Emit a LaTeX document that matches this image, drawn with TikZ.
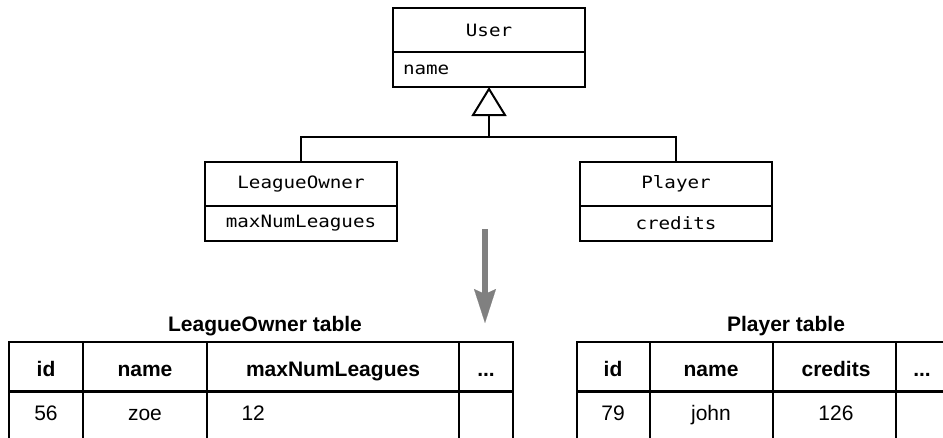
\documentclass[tikz,border=0pt]{standalone}
\usepackage{fontspec}
\setmainfont{Liberation Sans}
\newfontfamily\umlfont[FakeStretch=1.13]{DejaVu Sans Mono}
\usetikzlibrary{arrows.meta,positioning}

\begin{document}
\begin{tikzpicture}[
    x=1pt, y=-1pt,
    umlname/.style={draw, line width=2pt, minimum width=192pt, minimum height=44pt,
        inner sep=0pt, outer sep=0pt, font=\umlfont\fontsize{17}{20}\selectfont},
    umlattr/.style={umlname, minimum height=35pt},
    inherit/.style={-{Triangle[open, length=29pt, width=35pt, line width=2pt]}, line width=2pt},
    mapping/.style={-{Stealth[length=34pt, width=22pt, inset=5pt, line width=0.1pt]}, line width=6pt, draw=gray, fill=gray},
    grid/.style={line width=2pt, line cap=rect},
    sep/.style={line width=3pt},
    head/.style={anchor=base, font=\fontsize{21}{25}\selectfont\bfseries},
    cell/.style={anchor=base, font=\fontsize{21}{25}\selectfont}
]
    \useasboundingbox (0,0) rectangle (943,437);

    % Classes
    \node[umlname] (user) at (489,30) {User};
    \node[umlattr, below=0pt of user, text width=172pt, align=left] (username) {name};

    \node[umlname] (owner) at (301,184) {LeagueOwner};
    \node[umlattr, below=0pt of owner] (ownermax) {maxNumLeagues};

    \node[umlname] (player) at (676,184) {Player};
    \node[umlattr, below=0pt of player] (playercredits) {credits};

    % Inheritance
    \coordinate (join) at (489,137);
    \draw[line width=2pt] (owner.north) |- (join) -| (player.north);
    \draw[inherit] (join) -- (username.south);

    % Mapping arrow
    \coordinate (mapfrom) at (485,229);
    \coordinate (mapto) at (485,323);
    \draw[mapping] (mapfrom) -- (mapto);

    % LeagueOwner table
    \node[head] (lotitle) at (265,331) {LeagueOwner table};
    \draw[grid] (9,342) -- (513,342);
    \draw[grid] (9,342) -- (9,437);
    \draw[grid] (83,342) -- (83,437);
    \draw[grid] (207,342) -- (207,437);
    \draw[grid] (459,342) -- (459,437);
    \draw[grid] (513,342) -- (513,437);
    \draw[sep] (9,391) -- (513,391);
    \node[head] (loid) at (46,376) {id};
    \node[head] (loname) at (145,376) {name};
    \node[head] (lomax) at (333,376) {maxNumLeagues};
    \node[head] (lomore) at (486,376) {...};
    \node[cell] (loidval) at (46,420) {56};
    \node[cell] (lonameval) at (145,420) {zoe};
    \node[cell, anchor=base west] (lomaxval) at (238,420) {12};

    % Player table
    \node[head] (pltitle) at (786,331) {Player table};
    \draw[grid] (577,342) -- (943,342);
    \draw[grid] (577,342) -- (577,437);
    \draw[grid] (650,342) -- (650,437);
    \draw[grid] (773,342) -- (773,437);
    \draw[grid] (896,342) -- (896,437);
    \draw[sep] (577,391) -- (943,391);
    \node[head] (plid) at (613,376) {id};
    \node[head] (plname) at (711,376) {name};
    \node[head] (plcredits) at (836,376) {credits};
    \node[head] (plmore) at (922,376) {...};
    \node[cell] (plidval) at (613,420) {79};
    \node[cell] (plnameval) at (711,420) {john};
    \node[cell] (plcreditsval) at (836,420) {126};
\end{tikzpicture}
\end{document}
